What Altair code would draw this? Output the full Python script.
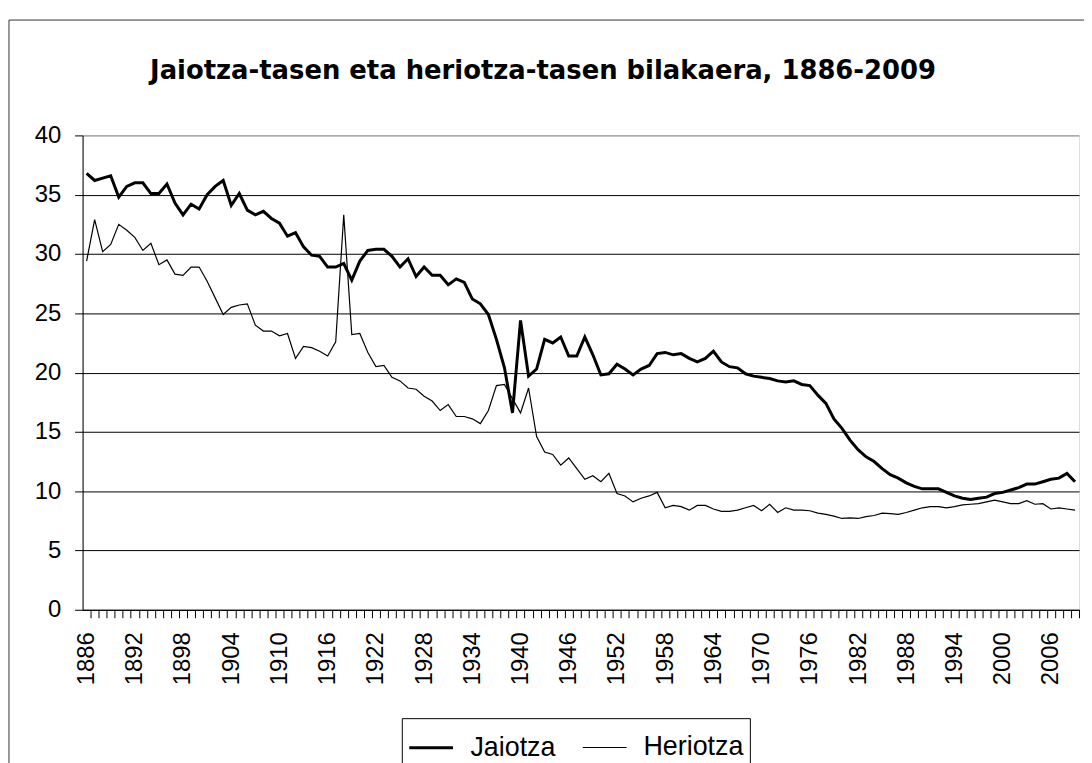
import altair as alt
import pandas as pd

years = list(range(1886, 2010))

jaiotza = [
    36.8, 36.2, 36.4, 36.6, 34.8, 35.7, 36.0, 36.0, 35.1, 35.1,   # 1886-1895
    35.9, 34.3, 33.3, 34.2, 33.8, 35.0, 35.7, 36.2, 34.1, 35.1,   # 1896-1905
    33.7, 33.3, 33.6, 33.0, 32.6, 31.5, 31.8, 30.6, 29.9, 29.8,   # 1906-1915
    28.9, 28.9, 29.2, 27.8, 29.4, 30.3, 30.4, 30.4, 29.8, 28.9,   # 1916-1925
    29.6, 28.1, 28.9, 28.2, 28.2, 27.4, 27.9, 27.6, 26.2, 25.8,   # 1926-1935
    24.9, 22.8, 20.4, 16.6, 24.4, 19.7, 20.3, 22.8, 22.5, 23.0,   # 1936-1945
    21.4, 21.4, 23.0, 21.5, 19.8, 19.9, 20.7, 20.3, 19.8, 20.3,   # 1946-1955
    20.6, 21.6, 21.7, 21.5, 21.6, 21.2, 20.9, 21.2, 21.8, 20.9,   # 1956-1965
    20.5, 20.4, 19.9, 19.7, 19.6, 19.5, 19.3, 19.2, 19.3, 19.0,   # 1966-1975
    18.9, 18.1, 17.4, 16.1, 15.3, 14.3, 13.5, 12.9, 12.5, 11.9,   # 1976-1985
    11.4, 11.1, 10.7, 10.4, 10.2, 10.2, 10.2, 9.9, 9.6, 9.4,      # 1986-1995
    9.3, 9.4, 9.5, 9.8, 9.9, 10.1, 10.3, 10.6, 10.6, 10.8,        # 1996-2005
    11.0, 11.1, 11.5, 10.8,                                       # 2006-2009
]

heriotza = [
    29.4, 32.9, 30.2, 30.8, 32.5, 32.0, 31.4, 30.3, 30.9, 29.1,   # 1886-1895
    29.5, 28.3, 28.2, 28.9, 28.9, 27.7, 26.3, 24.9, 25.5, 25.7,   # 1896-1905
    25.8, 24.0, 23.5, 23.5, 23.1, 23.3, 21.2, 22.2, 22.1, 21.8,   # 1906-1915
    21.4, 22.6, 33.3, 23.2, 23.3, 21.7, 20.5, 20.6, 19.6, 19.3,   # 1916-1925
    18.7, 18.6, 18.0, 17.6, 16.8, 17.3, 16.3, 16.3, 16.1, 15.7,   # 1926-1935
    16.8, 18.9, 19.0, 17.8, 16.6, 18.7, 14.6, 13.3, 13.1, 12.2,   # 1936-1945
    12.8, 11.9, 11.0, 11.3, 10.8, 11.5, 9.8, 9.6, 9.1, 9.4,       # 1946-1955
    9.6, 9.9, 8.6, 8.8, 8.7, 8.4, 8.8, 8.8, 8.5, 8.3,             # 1956-1965
    8.3, 8.4, 8.6, 8.8, 8.35, 8.9, 8.2, 8.6, 8.4, 8.4,            # 1966-1975
    8.35, 8.15, 8.05, 7.9, 7.7, 7.75, 7.7, 7.85, 7.95, 8.15,      # 1976-1985
    8.1, 8.05, 8.2, 8.4, 8.6, 8.7, 8.7, 8.6, 8.7, 8.85,           # 1986-1995
    8.9, 8.95, 9.1, 9.25, 9.1, 8.95, 8.95, 9.2, 8.9, 8.95,        # 1996-2005
    8.5, 8.6, 8.5, 8.4,                                           # 2006-2009
]

series_names = ["Jaiotza", "Heriotza"]
y_ticks = [0, 5, 10, 15, 20, 25, 30, 35, 40]
x_tick_years = list(range(1885, 2010))
title_text = "Jaiotza-tasen eta heriotza-tasen bilakaera, 1886-2009"

assert len(jaiotza) == len(years) and len(heriotza) == len(years)

df = pd.DataFrame({
    "urtea": years * 2,
    "tasa": jaiotza + heriotza,
    "seriea": [series_names[0]] * len(years) + [series_names[1]] * len(years),
})

PLOT_W = 1002
PLOT_H = 477
half_band = PLOT_W / len(years) / 2.0

legend_cfg = dict(
    orient="none", legendX=321, legendY=586, direction="horizontal", title=None,
    symbolType="stroke", symbolSize=1936, labelFont="Liberation Sans",
    labelFontSize=27, labelColor="black", strokeColor="black", fillColor="white",
    padding=6, columnPadding=24, labelOffset=16,
)

lines = alt.Chart(df).mark_line(clip=False).encode(
    x=alt.X(
        "urtea:Q",
        scale=alt.Scale(domain=[1885.5, 2009.5], nice=False, zero=False),
        axis=alt.Axis(
            values=x_tick_years, tickOffset=half_band, labelOffset=-half_band,
            labelExpr="(datum.value - 1886) % 6 == 0 ? datum.label : ''",
            format="d", labelAngle=-90, labelAlign="right", labelBaseline="middle",
            labelOverlap=False, labelFlush=False, labelBound=False, grid=False,
            tickSize=8, tickColor="black", domainColor="black", tickWidth=1,
            labelFont="Liberation Sans", labelFontSize=24, labelColor="black",
            labelPadding=14, title=None,
        ),
    ),
    y=alt.Y(
        "tasa:Q",
        scale=alt.Scale(domain=[0, 40], nice=False),
        axis=alt.Axis(
            values=y_ticks, grid=True,
            gridColor={"condition": {"test": "datum.value === 40", "value": "#808080"}, "value": "black"},
            gridWidth=1, tickSize=8, tickColor="black", domainColor="black",
            labelFont="Liberation Sans", labelFontSize=24, labelColor="black",
            labelPadding=14, title=None,
        ),
    ),
    color=alt.Color("seriea:N", scale=alt.Scale(domain=series_names, range=["black", "black"]),
                    legend=alt.Legend(**legend_cfg)),
    strokeWidth=alt.StrokeWidth("seriea:N", scale=alt.Scale(domain=series_names, range=[3, 1.2]),
                                legend=alt.Legend(**legend_cfg)),
)

single = alt.Data(values=[{"k": 1}])

border = alt.Chart(single).mark_rect(
    fillOpacity=0, stroke="#333333", strokeWidth=1, clip=False
).encode(
    x=alt.value(-74), x2=alt.value(1040), y=alt.value(-116), y2=alt.value(700)
)

title = alt.Chart(single).mark_text(
    text=title_text, font="DejaVu Sans", fontSize=26, fontWeight="bold",
    color="black", align="center", baseline="alphabetic", clip=False
).encode(x=alt.value(463), y=alt.value(-57))

chart = alt.layer(border, title, lines).properties(
    width=PLOT_W, height=PLOT_H,
    autosize=alt.AutoSizeParams(type="none"),
    padding={"left": 75, "top": 126, "right": 5, "bottom": 160},
).configure_view(stroke="#808080", strokeWidth=1).configure(background="white")

chart.save("out.html", embed_options={"renderer": "svg", "actions": False})
